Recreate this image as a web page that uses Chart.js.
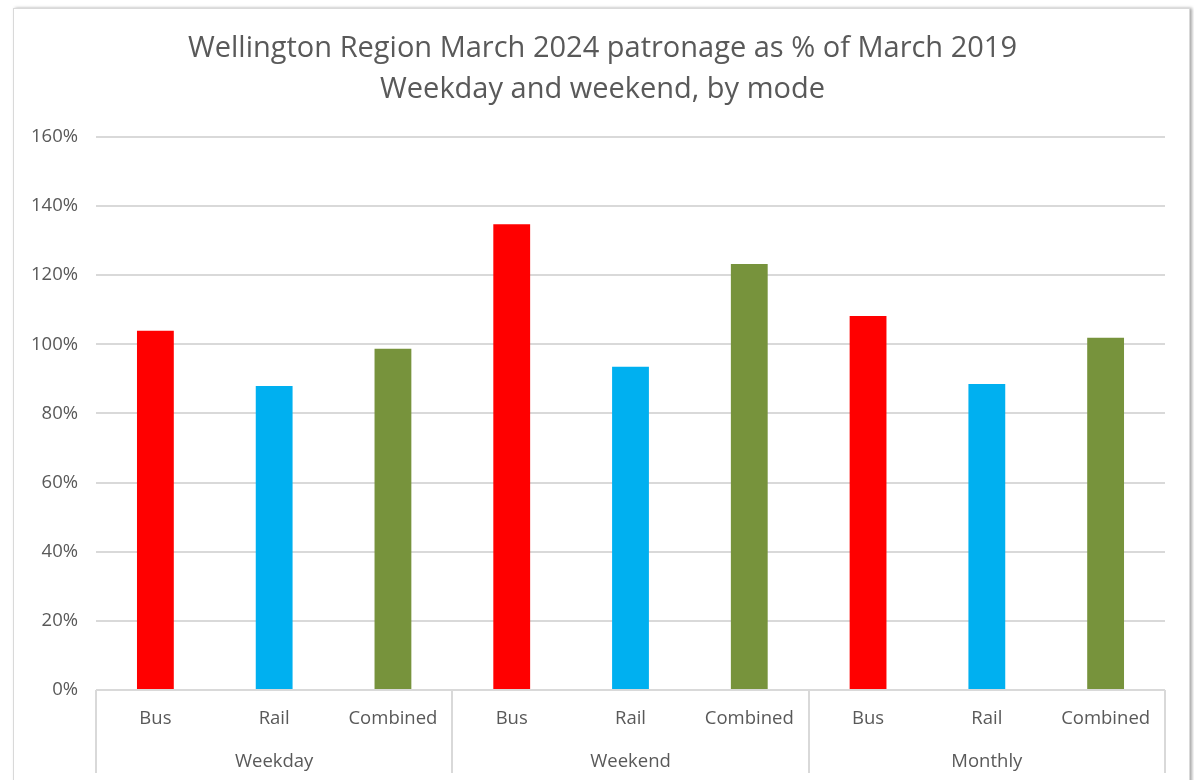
<!DOCTYPE html>
<html>
<head>
<meta charset="utf-8">
<script src="https://cdn.jsdelivr.net/npm/chart.js@4.4.1/dist/chart.umd.min.js"></script>
<style>
  body { margin: 0; background: #fff; }
  #wrap { position: relative; width: 1194px; height: 780px; overflow: hidden; }
  #frame {
    position: absolute; left: 13px; top: 8px; width: 1175px; height: 800px;
    border: 1px solid #d9d9d9; box-shadow: 2px 0 3px rgba(0,0,0,0.35);
  }
  canvas { position: absolute; left: 0; top: 0; }
</style>
</head>
<body>
<div id="wrap">
  <div id="frame"></div>
  <canvas id="myChart" width="1194" height="780"></canvas>
</div>
<script>
var periods = ['Weekday', 'Weekend', 'Monthly'];
var modes = ['Bus', 'Rail', 'Combined'];
// patronage as % of March 2019, one value per period
var busPct = [103.9, 134.7, 108.2];
var railPct = [87.9, 93.5, 88.5];
var combinedPct = [98.7, 123.2, 101.9];
var modeColours = ['#ff0000', '#00b0f0', '#77933c'];
var yTicks = [0, 20, 40, 60, 80, 100, 120, 140, 160];

var labels = [], values = [], colours = [];
var byMode = [busPct, railPct, combinedPct];
periods.forEach(function (p, i) {
  modes.forEach(function (m, j) {
    labels.push(m);
    values.push(byMode[j][i]);
    colours.push(modeColours[j]);
  });
});

var textGrey = '#595959';
var lineGrey = '#d9d9d9';
var fontName = "'Open Sans', 'Noto Sans', sans-serif";

// vertical dividers between the period groups, below the axis;
// also centres the title over the framed box rather than the canvas
var groupLines = {
  id: 'groupLines',
  afterLayout: function (chart) {
    if (chart.titleBlock) chart.titleBlock.left = 40;
  },
  afterDraw: function (chart) {
    var x = chart.scales.x, c = chart.ctx;
    var half = (x.getPixelForValue(1) - x.getPixelForValue(0)) / 2;
    c.save();
    c.strokeStyle = lineGrey;
    c.lineWidth = 2;
    for (var k = 0; k <= periods.length; k++) {
      var px = k === 0 ? x.getPixelForValue(0) - half : x.getPixelForValue(k * 3 - 1) + half;
      c.beginPath();
      c.moveTo(Math.round(px), chart.chartArea.bottom);
      c.lineTo(Math.round(px), 773);
      c.stroke();
    }
    c.restore();
  }
};

var ctx = document.getElementById('myChart').getContext('2d');
var myChart = new Chart(ctx, {
  type: 'bar',
  data: {
    labels: labels,
    datasets: [{
      data: values,
      backgroundColor: colours,
      barPercentage: 0.31,
      categoryPercentage: 1
    }]
  },
  options: {
    responsive: false,
    animation: false,
    layout: { padding: { top: 28, right: 29, bottom: 0, left: 0 } },
    plugins: {
      legend: { display: false },
      tooltip: { enabled: false },
      title: {
        display: true,
        text: ['Wellington Region March 2024 patronage as % of March 2019', 'Weekday and weekend, by mode'],
        color: textGrey,
        font: { family: fontName, size: 29, weight: 'normal', lineHeight: 1.41 },
        padding: { top: 0, bottom: 27 }
      }
    },
    scales: {
      y: {
        min: 0,
        max: 160,
        afterBuildTicks: function (s) { s.ticks = yTicks.map(function (v) { return { value: v }; }); },
        afterFit: function (s) { s.width = 96; },
        grid: { color: lineGrey, lineWidth: 2, drawTicks: false },
        border: { display: false },
        ticks: {
          padding: 18,
          color: textGrey,
          font: { family: fontName, size: 18.5 },
          callback: function (v) { return v + '%'; }
        }
      },
      x: {
        grid: { display: false },
        border: { display: false },
        afterFit: function (s) { s.height = 48; },
        ticks: {
          padding: 10,
          color: textGrey,
          maxRotation: 0,
          font: { family: fontName, size: 18.5 }
        }
      },
      x2: {
        type: 'category',
        position: 'bottom',
        labels: periods,
        offset: true,
        grid: { display: false },
        border: { display: false },
        afterFit: function (s) { s.height = 42; },
        ticks: {
          padding: 5,
          color: textGrey,
          maxRotation: 0,
          font: { family: fontName, size: 18.5 }
        }
      }
    }
  },
  plugins: [groupLines]
});
</script>
</body>
</html>
